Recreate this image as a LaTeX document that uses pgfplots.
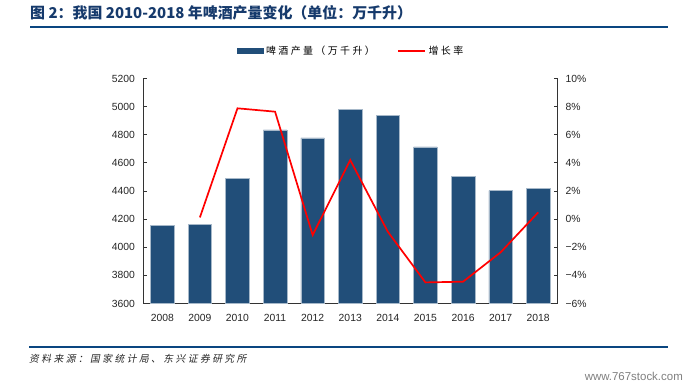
\documentclass[border=0pt]{standalone}
\usepackage{fontspec}
\setmainfont{Liberation Sans}
\newfontfamily\cjk{Noto Sans CJK SC}
\newfontfamily\cjksp{Noto Sans CJK SC}[LetterSpace=24]
\newfontfamily\cjksl{Noto Sans CJK SC}[FakeSlant=0.2,LetterSpace=25]
\usepackage{pgfplots}
\pgfplotsset{compat=1.18}
\definecolor{barblue}{RGB}{33,78,121}
\definecolor{navy}{RGB}{10,70,128}
\definecolor{titleblue}{RGB}{22,58,108}
\begin{document}
\begin{tikzpicture}[x=1bp,y=1bp]
\path[use as bounding box, fill=white] (0,0) rectangle (694,386);
\node[anchor=west, text=titleblue, font=\cjk\bfseries\fontsize{15}{17}\selectfont, inner sep=0] at (30,373) {图 2：我国 2010-2018 年啤酒产量变化（单位：万千升）};
\draw[navy, line width=2bp] (30,359) -- (668,359);
\draw[navy, line width=2bp] (29,39) -- (668,39);
\node[anchor=west, text=black!85, font=\cjksl\fontsize{9.8}{11}\selectfont, inner sep=0] at (29,27) {资料来源：国家统计局、东兴证券研究所};
\node[anchor=east, text=black!50, font=\fontsize{11.5}{13}\selectfont, inner sep=0] at (683,10) {www.767stock.com};
\begin{axis}[
  at={(143.5bp,82.5bp)}, anchor=south west,
  width=413.5bp, height=225bp, scale only axis,
  xmin=-0.5, xmax=10.5, ymin=3600, ymax=5200,
  ytick={3600,3800,...,5200},
  axis y line*=left, axis x line*=bottom,
  axis line style={black!80, line width=0.8bp, -},
  xtick={0,...,10},
  xticklabels={2008,2009,2010,2011,2012,2013,2014,2015,2016,2017,2018},
  x tick style={draw=none},
  y tick style={black!80, line width=0.8bp},
  tick align=inside, major tick length=3bp,
  tick label style={font=\fontsize{10.4}{12}\selectfont, text=black!85},
  /pgf/number format/assume math mode=true,
  /pgf/number format/1000 sep={},
  xticklabel style={yshift=-7bp},
  yticklabel style={xshift=-5bp},
  clip=false,
]
\addplot[ybar, bar width=23.6bp, fill=barblue, draw=barblue!40!white, line width=0.5bp] coordinates {
(0,4156) (1,4162) (2,4490) (3,4834) (4,4778) (5,4982) (6,4936) (7,4713) (8,4506) (9,4402) (10,4420)
};
\end{axis}
\begin{axis}[
  at={(143.5bp,82.5bp)}, anchor=south west,
  width=413.5bp, height=225bp, scale only axis,
  xmin=-0.5, xmax=10.5, ymin=-6, ymax=10,
  ytick={-6,-4,...,10},
  yticklabels={−6\%,−4\%,−2\%,0\%,2\%,4\%,6\%,8\%,10\%},
  axis y line*=right, axis x line=none,
  axis line style={black!80, line width=0.8bp, -},
  y tick style={black!80, line width=0.8bp},
  tick align=inside, major tick length=3bp,
  tick label style={font=\fontsize{10.4}{12}\selectfont, text=black!85},
  yticklabel style={xshift=5bp},
  clip=false,
  legend columns=2,
  legend style={draw=none, fill=none, inner sep=0pt, at={(0.226,1.122)}, anchor=west,
    font=\cjksp\fontsize{10}{12}\selectfont,
    /tikz/every even column/.append style={column sep=20bp},
    nodes={inner sep=2.5bp}},
]
\addlegendimage{legend image code/.code={\fill[barblue] (0bp,-2.5bp) rectangle (26bp,2.5bp);}}
\addlegendentry{啤酒产量（万千升）}
\addplot[red, line width=1.7bp, legend image code/.code={\draw[red, line width=1.7bp] (0bp,0bp) -- (27bp,0bp);}] coordinates {
(1,0.12) (2,7.88) (3,7.64) (4,-1.13) (5,4.2) (6,-0.9) (7,-4.5) (8,-4.45) (9,-2.36) (10,0.48)
};
\addlegendentry{增长率}
\end{axis}
\end{tikzpicture}
\end{document}
